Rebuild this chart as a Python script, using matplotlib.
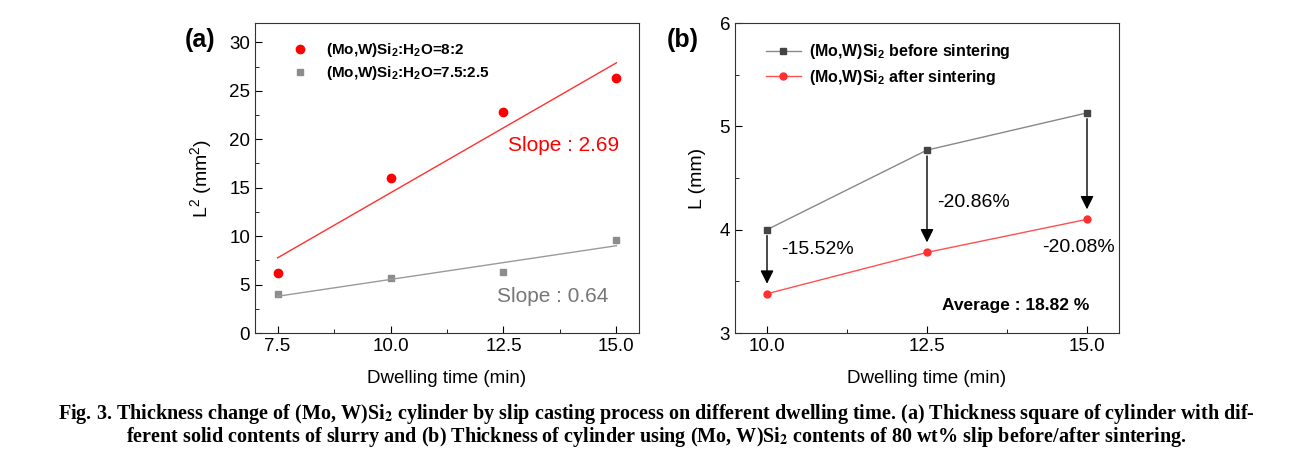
import numpy as np
import matplotlib.pyplot as plt
from matplotlib.ticker import MultipleLocator

plt.rcParams['font.family'] = ['Liberation Sans', 'DejaVu Sans']
plt.rcParams['mathtext.fontset'] = 'custom'
plt.rcParams['mathtext.rm'] = 'Liberation Sans'
plt.rcParams['mathtext.bf'] = 'Liberation Sans:bold'

# panel (a): squared thickness vs dwelling time
time_a = [7.5, 10.0, 12.5, 15.0]
l2_82 = [6.2, 16.0, 22.8, 26.3]
l2_7525 = [4.0, 5.7, 6.3, 9.6]

# panel (b): thickness before / after sintering
time_b = [10.0, 12.5, 15.0]
l_before = [4.0, 4.77, 5.13]
l_after = [3.38, 3.78, 4.10]
shrink = ["-15.52%", "-20.86%", "-20.08%"]

fig = plt.figure(figsize=(13.12, 4.67), dpi=100)
W, H = 1312, 467
ax1 = fig.add_axes([255 / W, 1 - 333 / H, 384 / W, 310 / H])
ax2 = fig.add_axes([735 / W, 1 - 333 / H, 384 / W, 310 / H])

for ax in (ax1, ax2):
    ax.tick_params(direction='in', which='both', labelsize=13.5, top=False, right=False)
    ax.tick_params(which='major', length=5)
    ax.tick_params(which='minor', length=3)
    for s in ax.spines.values():
        s.set_color('#333333')
    ax.set_xlabel("Dwelling time (min)", fontsize=13.5, labelpad=11)

# (a)
ax1.plot(time_a, l2_82, 'o', color='#ff0000', ms=6, label=r"(Mo,W)Si$_\mathbf{2}$:H$_\mathbf{2}$O=8:2")
ax1.plot(time_a, l2_7525, 's', color='#8c8c8c', ms=5, label=r"(Mo,W)Si$_\mathbf{2}$:H$_\mathbf{2}$O=7.5:2.5")
xs = np.array([7.5, 15.0])
p1 = np.polyfit(time_a, l2_82, 1)
p2 = np.polyfit(time_a, l2_7525, 1)
ax1.plot(xs, np.polyval(p1, xs), color='#ff3030', lw=1)
ax1.plot(xs, np.polyval(p2, xs), color='#9a9a9a', lw=1)
ax1.set_xlim(7.0, 15.5)
ax1.set_ylim(0, 32)
ax1.set_xticks([7.5, 10.0, 12.5, 15.0])
ax1.set_xticklabels(["7.5", "10.0", "12.5", "15.0"])
ax1.xaxis.set_minor_locator(MultipleLocator(1.25))
ax1.yaxis.set_major_locator(MultipleLocator(5))
ax1.yaxis.set_minor_locator(MultipleLocator(2.5))
ax1.set_ylabel(r"L$^2$ (mm$^2$)", fontsize=14, labelpad=10)
ax1.text(12.6, 19.4, "Slope : 2.69", color='#ff0000', fontsize=15, va='center')
ax1.text(12.36, 3.8, "Slope : 0.64", color='#777777', fontsize=15, va='center')
leg1 = ax1.legend(loc='upper left', frameon=False, fontsize=11, handletextpad=0.7,
                  labelspacing=0.3, borderaxespad=0.8, bbox_to_anchor=(0.03, 1.0))
for t in leg1.get_texts():
    t.set_fontweight('bold')
fig.text(185 / W, 1 - 40 / H, "(a)", fontsize=18, fontweight='bold', va='center')

# (b)
ax2.plot(time_b, l_before, '-s', color='#888888', lw=1, ms=5, mfc='#444444', mec='#444444',
         label=r"(Mo,W)Si$_\mathbf{2}$ before sintering")
ax2.plot(time_b, l_after, '-o', color='#ff5050', lw=1, ms=5, mfc='#ff3030', mec='#ff3030',
         label=r"(Mo,W)Si$_\mathbf{2}$ after sintering")
for x, y0, y1 in zip(time_b, l_before, l_after):
    ax2.annotate("", xy=(x, y1 + 0.07), xytext=(x, y0 - 0.03),
                 arrowprops=dict(arrowstyle='-|>', color='black', lw=1, mutation_scale=20))
ax2.text(10.22, 3.81, shrink[0], fontsize=14, va='center')
ax2.text(12.66, 4.26, shrink[1], fontsize=14, va='center')
ax2.text(14.3, 3.83, shrink[2], fontsize=14, va='center')
ax2.text(12.74, 3.27, "Average : 18.82 %", fontsize=12.5, fontweight='bold', va='center')
ax2.set_xlim(9.5, 15.5)
ax2.set_ylim(3, 6)
ax2.set_xticks([10.0, 12.5, 15.0])
ax2.set_xticklabels(["10.0", "12.5", "15.0"])
ax2.xaxis.set_minor_locator(MultipleLocator(1.25))
ax2.yaxis.set_major_locator(MultipleLocator(1))
ax2.yaxis.set_minor_locator(MultipleLocator(0.5))
ax2.set_ylabel("L (mm)", fontsize=14, labelpad=10)
leg2 = ax2.legend(loc='upper left', frameon=False, fontsize=11.5, handlelength=2.2,
                  handletextpad=0.5, labelspacing=0.4, borderaxespad=0.8,
                  bbox_to_anchor=(0.03, 1.0))
for t in leg2.get_texts():
    t.set_fontweight('bold')
fig.text(667 / W, 1 - 40 / H, "(b)", fontsize=18, fontweight='bold', va='center')

# caption
cap1 = (r"Fig. 3. Thickness change of (Mo, W)Si$_\mathbf{2}$ cylinder by slip casting process on different "
        r"dwelling time. (a) Thickness square of cylinder with dif-")
cap2 = (r"ferent solid contents of slurry and (b) Thickness of cylinder using (Mo, W)Si$_\mathbf{2}$ "
        r"contents of 80 wt% slip before/after sintering.")
for txt, y in ((cap1, 414), (cap2, 437)):
    fig.text(0.5, 1 - y / H, txt, ha='center', va='center', fontsize=14.5,
             family='Liberation Serif', fontweight='bold', math_fontfamily='stix')

fig.savefig("out.png", dpi=100)
